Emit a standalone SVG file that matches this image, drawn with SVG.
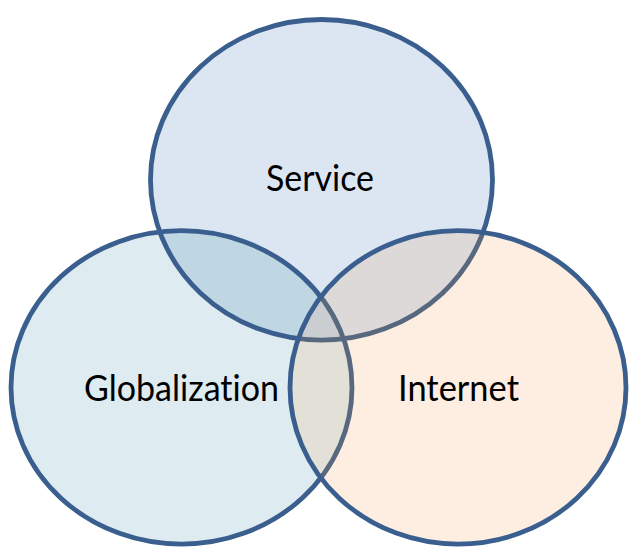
<svg xmlns="http://www.w3.org/2000/svg" width="629" height="548" viewBox="0 0 629 548">
  <style>
    .edge { fill: none; stroke: #3A5F8F; stroke-width: 4.8; }
    .dim { fill: none; stroke: #58687F; stroke-width: 4.8; }
    .label { font-family: Lato, "Liberation Sans", Arial, sans-serif; font-size: 37px; fill: #000000; text-anchor: middle; font-variant-ligatures: none; font-feature-settings: "liga" 0, "clig" 0; }
  </style>
  <defs>
    <ellipse id="eT" cx="321.5" cy="179.8" rx="171" ry="160.3"/>
    <ellipse id="eL" cx="181.5" cy="387.4" rx="170.5" ry="156.7"/>
    <ellipse id="eR" cx="458" cy="387.4" rx="168" ry="156.7"/>
    <clipPath id="cT"><use href="#eT"/></clipPath>
    <clipPath id="cL"><use href="#eL"/></clipPath>
    <clipPath id="cR"><use href="#eR"/></clipPath>
  </defs>
  <rect width="629" height="548" fill="#FFFFFF"/>

  <g id="service">
    <use href="#eT" fill="#DCE6F2"/>
    <use href="#eT" class="edge"/>
    <text class="label" x="320" y="191" textLength="108" lengthAdjust="spacingAndGlyphs">Service</text>
  </g>

  <g id="globalization">
    <use href="#eL" fill="#DEEBF0"/>
    <use href="#eT" fill="#BFD6E3" clip-path="url(#cL)"/>
    <use href="#eT" class="edge" clip-path="url(#cL)"/>
    <use href="#eL" class="edge"/>
    <text class="label" x="181.5" y="401" textLength="195" lengthAdjust="spacingAndGlyphs">Globalization</text>
  </g>

  <g id="internet">
    <use href="#eR" fill="#FDEEE1"/>
    <use href="#eT" fill="#DDD9D9" clip-path="url(#cR)"/>
    <use href="#eL" fill="#E3E0D7" clip-path="url(#cR)"/>
    <g clip-path="url(#cR)">
      <use href="#eT" fill="#CBCED0" clip-path="url(#cL)"/>
    </g>
    <use href="#eT" class="dim" clip-path="url(#cR)"/>
    <use href="#eL" class="dim" clip-path="url(#cR)"/>
    <use href="#eR" class="edge"/>
    <text class="label" x="458.5" y="401" textLength="121" lengthAdjust="spacingAndGlyphs">Internet</text>
  </g>

  <g id="connectors"/>
</svg>
